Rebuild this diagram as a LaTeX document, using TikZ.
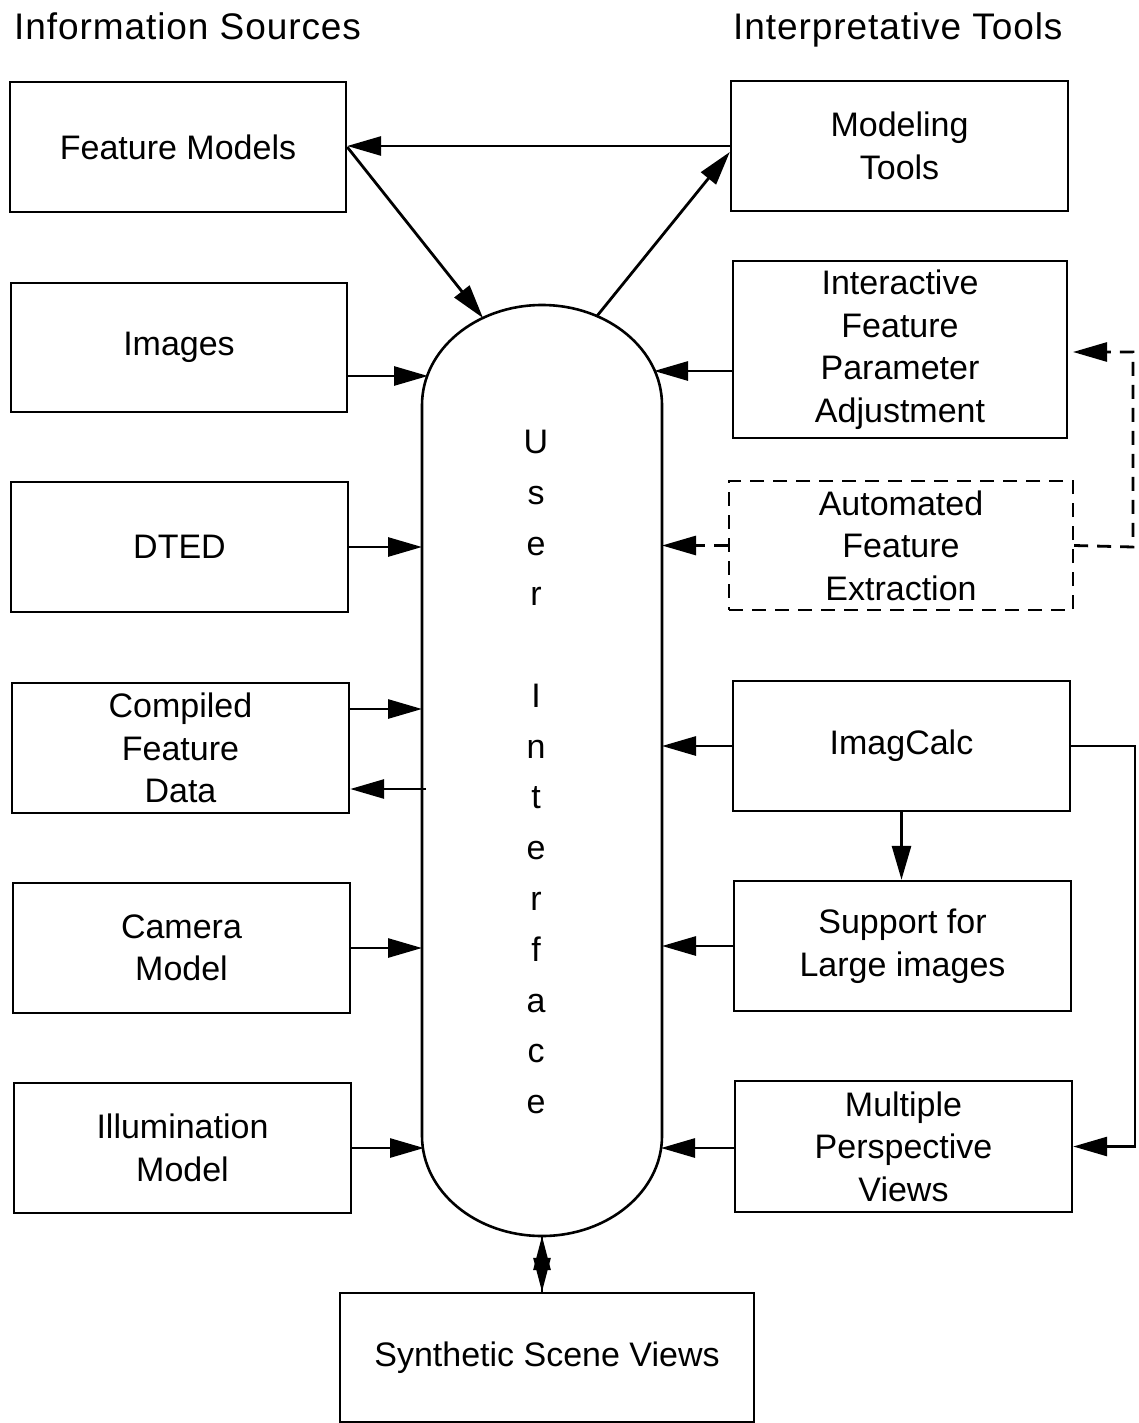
\documentclass[tikz,border=0pt]{standalone}
\usepackage{fontspec}
\setmainfont{Liberation Sans}
\usetikzlibrary{arrows.meta}
\begin{document}
\begin{tikzpicture}[x=1pt,y=-1pt,
  box/.style={draw, line width=2.4pt, inner sep=0pt, align=center, font=\fontsize{34}{42.5}\selectfont},
  dbox/.style={box, dash pattern=on 14pt off 9pt},
  conn/.style={line width=2.8pt, -{Triangle[length=34pt,width=19pt]}},
  dconn/.style={conn, dash pattern=on 14pt off 9pt},
  half/.style={line width=2.8pt, -{Triangle[length=34pt,width=17pt]}},
  lbl/.style={font=\fontsize{37}{40}\selectfont\addfontfeature{LetterSpace=2.5}, inner sep=0pt, anchor=base west},
  pill/.style={line width=2.6pt}]
\useasboundingbox (0,0) rectangle (1138,1423);

% headers
\node[lbl] (hl) at (14,40) {Information Sources};
\node[lbl] (hr) at (733,40) {Interpretative Tools};

% left column
\node[box, minimum width=336pt, minimum height=130pt] (fm) at (178,147) {Feature Models};
\node[box, minimum width=336pt, minimum height=129pt] (img) at (179,347.5) {Images};
\node[box, minimum width=337pt, minimum height=130pt] (dted) at (179.5,547) {DTED};
\node[box, minimum width=337pt, minimum height=130pt] (cfd) at (180.5,748) {Compiled\\Feature\\Data};
\node[box, minimum width=337pt, minimum height=130pt] (cam) at (181.5,948) {Camera\\Model};
\node[box, minimum width=337pt, minimum height=130pt] (ill) at (182.5,1148) {Illumination\\Model};

% right column
\node[box, minimum width=337pt, minimum height=130pt] (mt) at (899.5,146) {Modeling\\Tools};
\node[box, minimum width=334pt, minimum height=177pt] (ifpa) at (900,349.5) {Interactive\\Feature\\Parameter\\Adjustment};
\node[dbox, minimum width=344pt, minimum height=129pt] (afe) at (901,545.5) {Automated\\Feature\\Extraction};
\node[box, minimum width=337pt, minimum height=130pt] (ic) at (901.5,746) {ImagCalc};
\node[box, minimum width=337pt, minimum height=130pt] (slg) at (902.5,946) {Support for\\Large images};
\node[box, minimum width=337pt, minimum height=131pt] (mpv) at (903.5,1146.5) {Multiple\\Perspective\\Views};

% bottom
\node[box, minimum width=414pt, minimum height=129pt] (ssv) at (547,1357.5) {Synthetic Scene Views};

% user interface pill
\draw[pill] (422,405) arc[start angle=180, end angle=360, x radius=120, y radius=100]
  -- (662,1136) arc[start angle=0, end angle=180, x radius=120, y radius=100] -- cycle;
\node[inner sep=0pt, align=center, font=\fontsize{34}{50.77}\selectfont] (uit) at (536,772)
  {U\\s\\e\\r\\[50.77pt]I\\n\\t\\e\\r\\f\\a\\c\\e};

% points on the pill outline
\coordinate (uiW) at (422,770);
\coordinate (uiE) at (662,770);
\coordinate (uiA) at (483,318);
\coordinate (uiB) at (597,316);
\coordinate (uiImg) at (428,376);
\coordinate (uiIfpa) at (654,371);
\coordinate (uiC1) at (422,709);
\coordinate (uiC2) at (426,789);
\coordinate (uiIll) at (424,1148);
\coordinate (uiMpv) at (661,1148);
\coordinate (uiS) at (542,1236);
\coordinate (m1) at (542,1270);
\coordinate (m2) at (542,1259);
\coordinate (rr) at (1135,746);
\coordinate (rd) at (1133,547);
\coordinate (ifpaR) at (1073,352);

% connectors
\draw[conn] (mt.west) -- (mt.west -| fm.east);
\draw[conn] (fm.east) -- (uiA);
\draw[conn] (uiB) -- ([yshift=-6pt]mt.west);
\draw[conn] (img.east |- uiImg) -- (uiImg);
\draw[conn] (dted.east) -- (dted.east -| uiW);
\draw[conn] (cfd.east |- uiC1) -- (uiC1);
\draw[conn] (uiC2) -- (uiC2 -| cfd.east);
\draw[conn] (cam.east) -- (cam.east -| uiW);
\draw[conn] (ill.east |- uiIll) -- (uiIll);
\draw[conn] (ifpa.west |- uiIfpa) -- (uiIfpa);
\draw[dconn] (afe.west) -- (afe.west -| uiE);
\draw[conn] (ic.west) -- (ic.west -| uiE);
\draw[conn] (slg.west) -- (slg.west -| uiE);
\draw[conn] (mpv.west |- uiMpv) -- (uiMpv);
\draw[conn] (ic.south) -- (ic.south |- slg.north);
\draw[conn] (ic.east) -- (ic.east -| rr) |- (mpv.east);
\draw[dconn] (afe.east) -- (rd) |- (ifpaR);
% double-headed link between user interface and synthetic views
\draw[line width=2.8pt] (uiS) -- (uiS |- ssv.north);
\draw[half] (m1) -- (uiS);
\draw[half] (m2) -- (m2 |- ssv.north);
\end{tikzpicture}
\end{document}
